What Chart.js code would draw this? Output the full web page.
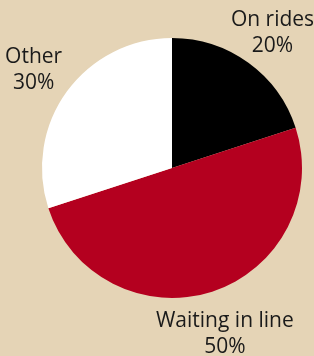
<!DOCTYPE html>
<html>
<head>
<meta charset="utf-8">
<script src="https://cdn.jsdelivr.net/npm/chart.js@4"></script>
<style>
  html, body { margin: 0; padding: 0; background: #e5d4b6; }
  #wrap { width: 314px; height: 356px; position: relative; }
</style>
</head>
<body>
<div id="wrap"><canvas id="pieChart"></canvas></div>
<script>
// Where the time at the park goes
const categories = ['On rides', 'Waiting in line', 'Other'];
const shares = [20, 50, 30];
const sliceColors = ['#000000', '#b4001f', '#ffffff'];

// labels sit just outside each slice, at the slice's middle angle
const outsideLabels = {
  id: 'outsideLabels',
  afterDatasetsDraw(chart) {
    const ctx = chart.ctx;
    const arcs = chart.getDatasetMeta(0).data;
    ctx.save();
    ctx.font = '21px "Open Sans"';
    ctx.fillStyle = '#1a1a1a';
    ctx.textAlign = 'center';
    ctx.textBaseline = 'middle';
    arcs.forEach((arc, i) => {
      const mid = (arc.startAngle + arc.endAngle) / 2;
      const d = arc.outerRadius + 41;
      const x = arc.x + Math.cos(mid) * d;
      const y = arc.y + Math.sin(mid) * d + 2;
      ctx.fillText(categories[i], x, y - 12);
      ctx.fillText(shares[i] + '%', x, y + 14);
    });
    ctx.restore();
  }
};

new Chart(document.getElementById('pieChart'), {
  type: 'pie',
  data: {
    labels: categories,
    datasets: [{
      data: shares,
      backgroundColor: sliceColors,
      borderWidth: 0
    }]
  },
  options: {
    responsive: true,
    maintainAspectRatio: false,
    animation: false,
    layout: { padding: { left: 42, right: 12, top: 38, bottom: 58 } },
    plugins: {
      legend: { display: false },
      tooltip: { enabled: false }
    }
  },
  plugins: [outsideLabels]
});
</script>
</body>
</html>
